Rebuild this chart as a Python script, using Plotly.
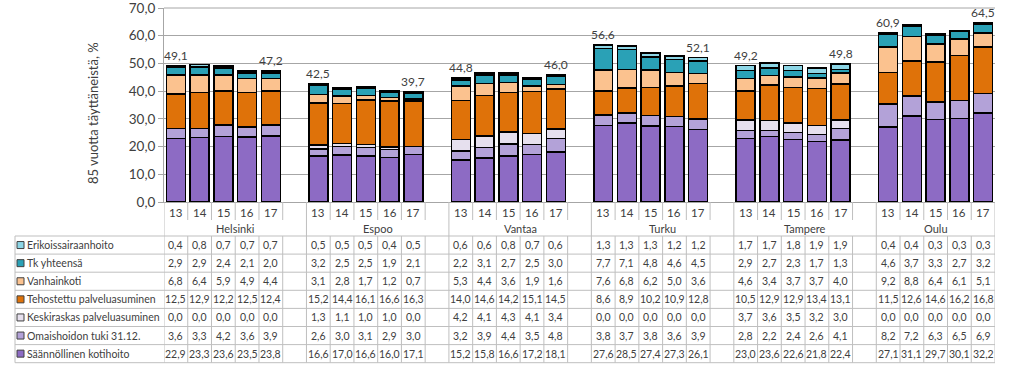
import plotly.graph_objects as go

# ---------------- data ----------------
cities = ["Helsinki", "Espoo", "Vantaa", "Turku", "Tampere", "Oulu"]
years = ["13", "14", "15", "16", "17"]

# bottom-to-top stacking order
saannollinen = [22.9, 23.3, 23.6, 23.5, 23.8, 16.6, 17.0, 16.6, 16.0, 17.1,
                15.2, 15.8, 16.6, 17.2, 18.1, 27.6, 28.5, 27.4, 27.3, 26.1,
                23.0, 23.6, 22.6, 21.8, 22.4, 27.1, 31.1, 29.7, 30.1, 32.2]
omaishoito = [3.6, 3.3, 4.2, 3.6, 3.9, 2.6, 3.0, 3.1, 2.9, 3.0,
              3.2, 3.9, 4.4, 3.5, 4.8, 3.8, 3.7, 3.8, 3.6, 3.9,
              2.8, 2.2, 2.4, 2.6, 4.1, 8.2, 7.2, 6.3, 6.5, 6.9]
keskiraskas = [0.0, 0.0, 0.0, 0.0, 0.0, 1.3, 1.1, 1.0, 1.0, 0.0,
               4.2, 4.1, 4.3, 4.1, 3.4, 0.0, 0.0, 0.0, 0.0, 0.0,
               3.7, 3.6, 3.5, 3.2, 3.0, 0.0, 0.0, 0.0, 0.0, 0.0]
tehostettu = [12.5, 12.9, 12.2, 12.5, 12.4, 15.2, 14.4, 16.1, 16.6, 16.3,
              14.0, 14.6, 14.2, 15.1, 14.5, 8.6, 8.9, 10.2, 10.9, 12.8,
              10.5, 12.9, 12.9, 13.4, 13.1, 11.5, 12.6, 14.6, 16.2, 16.8]
vanhainkoti = [6.8, 6.4, 5.9, 4.9, 4.4, 3.1, 2.8, 1.7, 1.2, 0.7,
               5.3, 4.4, 3.6, 1.9, 1.6, 7.6, 6.8, 6.2, 5.0, 3.6,
               4.6, 3.4, 3.7, 3.7, 4.0, 9.2, 8.8, 6.4, 6.1, 5.1]
tk_yhteensa = [2.9, 2.9, 2.4, 2.1, 2.0, 3.2, 2.5, 2.5, 1.9, 2.1,
               2.2, 3.1, 2.7, 2.5, 3.0, 7.7, 7.1, 4.8, 4.6, 4.5,
               2.9, 2.7, 2.3, 1.7, 1.3, 4.6, 3.7, 3.3, 2.7, 3.2]
erikoissairaanhoito = [0.4, 0.8, 0.7, 0.7, 0.7, 0.5, 0.5, 0.5, 0.4, 0.5,
                       0.6, 0.6, 0.8, 0.7, 0.6, 1.3, 1.3, 1.3, 1.2, 1.2,
                       1.7, 1.7, 1.8, 1.9, 1.9, 0.4, 0.4, 0.3, 0.3, 0.3]

first_totals = [49.1, 42.5, 44.8, 56.6, 49.2, 60.9]
last_totals = [47.2, 39.7, 46.0, 52.1, 49.8, 64.5]

y_ticks = [0, 10, 20, 30, 40, 50, 60, 70]
y_title = "85 vuotta täyttäneistä, %"

series = [
    ("Säännöllinen kotihoito", saannollinen, "#8D6BC4"),
    ("Omaishoidon tuki 31.12.", omaishoito, "#B3A2D8"),
    ("Keskiraskas palveluasuminen", keskiraskas, "#E6E0EE"),
    ("Tehostettu palveluasuminen", tehostettu, "#DF7209"),
    ("Vanhainkoti", vanhainkoti, "#FBC28F"),
    ("Tk yhteensä", tk_yhteensa, "#2AA1B6"),
    ("Erikoissairaanhoito", erikoissairaanhoito, "#8DD6E6"),
]

# ---------------- geometry ----------------
W, H = 1023, 381
PL, PR, PT, PB = 164, 995, 8, 202
NSLOT = 35
FONT = "Lato"
TXT = "#404040"
GRID = "#BFBFBF"
AXGRID = "#A6A6A6"


def py2paper(py):
    return (PB - py) / (PB - PT)


def px2paper(px):
    return (px - PL) / (PR - PL)


def slot_center(g, k):
    return g * 6 + k + 0.5


xs = [slot_center(g, k) for g in range(len(cities)) for k in range(len(years))]

fig = go.Figure()
for name, vals, col in series:
    fig.add_trace(go.Bar(
        x=xs, y=vals, name=name, width=0.8,
        marker=dict(color=col, line=dict(color="#000000", width=1.5)),
        hoverinfo="skip", showlegend=False,
    ))

annotations = []
shapes = []


def ann(**kw):
    kw.setdefault("showarrow", False)
    kw.setdefault("xanchor", "center")
    kw.setdefault("yanchor", "middle")
    annotations.append(kw)


# total labels
for g in range(len(cities)):
    for k, tot in ((0, first_totals[g]), (4, last_totals[g])):
        ann(x=slot_center(g, k), y=tot, xref="x", yref="y",
            text=f"{tot:.1f}".replace(".", ","), yanchor="bottom", yshift=1,
            font=dict(family=FONT, size=12, color=TXT))

# y title
ann(x=px2paper(93), y=py2paper(113), xref="paper", yref="paper",
    text=y_title, textangle=-90,
    font=dict(family=FONT, size=13, color=TXT))

# header: year labels and city labels
YEAR_Y = 212
CITY_Y = 228.5
for g in range(len(cities)):
    for k, yr in enumerate(years):
        ann(x=slot_center(g, k), y=py2paper(YEAR_Y), xref="x", yref="paper",
            text=yr, font=dict(family=FONT, size=11.5, color=TXT))
    nslots = 6 if g < len(cities) - 1 else 5
    ann(x=g * 6 + nslots / 2, y=py2paper(CITY_Y), xref="x", yref="paper",
        text=cities[g], font=dict(family=FONT, size=11, color=TXT))

TABLE_TOP = 236
ROW_H = 18.1
TABLE_BOT = TABLE_TOP + ROW_H * 7
group_bounds = {0, 6, 12, 18, 24, 30, 35}
for b in range(NSLOT + 1):
    bot = TABLE_TOP if b in group_bounds else 220
    shapes.append(dict(type="line", xref="x", yref="paper",
                       x0=b, x1=b, y0=py2paper(PB), y1=py2paper(bot),
                       line=dict(color=GRID, width=1)))
    shapes.append(dict(type="line", xref="x", yref="paper",
                       x0=b, x1=b, y0=py2paper(TABLE_TOP), y1=py2paper(TABLE_BOT),
                       line=dict(color=GRID, width=1)))
shapes.append(dict(type="line", xref="paper", yref="paper",
                   x0=px2paper(15), x1=px2paper(15),
                   y0=py2paper(TABLE_TOP), y1=py2paper(TABLE_BOT),
                   line=dict(color=GRID, width=1)))
for r in range(8):
    yy = py2paper(TABLE_TOP + ROW_H * r)
    shapes.append(dict(type="line", xref="paper", yref="paper",
                       x0=px2paper(15), x1=px2paper(PR), y0=yy, y1=yy,
                       line=dict(color=GRID, width=1)))

# top gridline at the range edge
shapes.append(dict(type="line", xref="paper", yref="paper", x0=0, x1=1,
                   y0=1, y1=1, line=dict(color=AXGRID, width=1)))

# table rows (top to bottom = reverse stacking order)
for r, (name, vals, col) in enumerate(reversed(series)):
    cy = TABLE_TOP + ROW_H * (r + 0.5)
    shapes.append(dict(type="rect", xref="paper", yref="paper",
                       x0=px2paper(17), x1=px2paper(24),
                       y0=py2paper(cy + 3.5), y1=py2paper(cy - 3.5),
                       fillcolor=col, line=dict(color="#404040", width=1)))
    ann(x=px2paper(25), y=py2paper(cy), xref="paper", yref="paper",
        text=name, xanchor="left",
        font=dict(family=FONT, size=10.5, color=TXT))
    for i, v in enumerate(vals):
        ann(x=xs[i], y=py2paper(cy), xref="x", yref="paper",
            text=f"{v:.1f}".replace(".", ","),
            font=dict(family=FONT, size=10.5, color=TXT))

fig.update_layout(
    width=W, height=H,
    margin=dict(l=PL, r=W - PR, t=PT, b=H - PB, autoexpand=False),
    barmode="stack", bargap=0,
    plot_bgcolor="white", paper_bgcolor="white",
    annotations=annotations, shapes=shapes,
    font=dict(family=FONT, color=TXT),
    hovermode=False,
    xaxis=dict(range=[0, NSLOT], showticklabels=False, showgrid=False,
               zeroline=False, showline=True, linecolor=AXGRID, ticks="",
               automargin=False, fixedrange=True),
    yaxis=dict(range=[0, 70], tickvals=y_ticks,
               ticktext=[f"{t:.1f}".replace(".", ",") for t in y_ticks],
               showgrid=True, gridcolor=AXGRID, gridwidth=1,
               zeroline=False, showline=True, linecolor=AXGRID,
               ticks="outside", ticklen=5, tickcolor=AXGRID, automargin=False,
               ticklabeloverflow="allow", fixedrange=True,
               tickfont=dict(family=FONT, size=13.5, color=TXT)),
)

# the figure fills the whole window: drop the page's default body margin
fig.write_html("out.html",
               config={"displayModeBar": False, "staticPlot": True},
               post_script="document.body.style.margin='0';"
                           "document.body.style.overflow='hidden';")
